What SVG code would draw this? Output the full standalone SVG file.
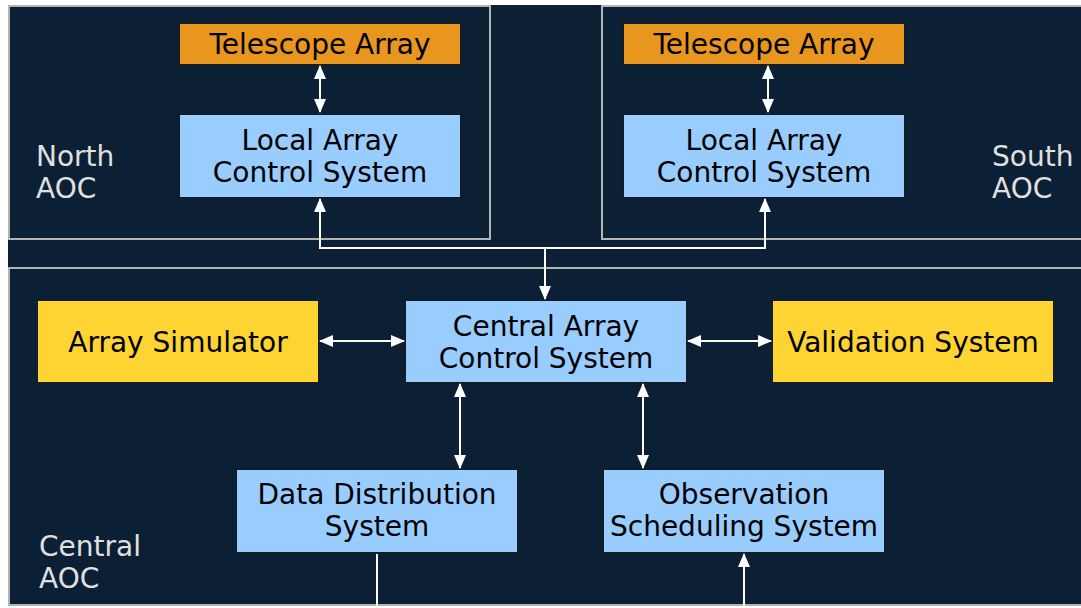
<svg xmlns="http://www.w3.org/2000/svg" width="1081" height="608" viewBox="0 0 1081 608">
  <style>
    .zone { fill: #0b1f35; stroke: #b4b4b4; stroke-width: 2; }
    .box { stroke: #1a1a1a; stroke-width: 1; }
    .tel { fill: #e8961e; }
    .ctl { fill: #99ccff; }
    .aux { fill: #fdd431; }
    .lbl { font-family: "DejaVu Sans", Verdana, sans-serif; font-size: 28px; fill: #000; text-anchor: middle; }
    .zlbl { font-family: "DejaVu Sans", Verdana, sans-serif; font-size: 28px; fill: #e0e0e0; }
    .wire { fill: none; stroke: #ffffff; stroke-width: 2; }
  </style>
  <defs>
    <marker id="head" viewBox="0 0 14 12" refX="13" refY="6" markerWidth="14" markerHeight="12" markerUnits="userSpaceOnUse" orient="auto-start-reverse">
      <path d="M0,0 L14,6 L0,12 Z" fill="#ffffff"/>
    </marker>
  </defs>

  <rect x="0" y="0" width="1081" height="608" fill="#ffffff"/>
  <rect x="8" y="5" width="1073" height="600" fill="#0b1f35"/>

  <!-- operation centres -->
  <g id="north-aoc">
    <rect class="zone" x="9" y="6" width="481" height="233"/>
    <text class="zlbl" x="36" y="166">North</text>
    <text class="zlbl" x="36" y="198">AOC</text>
  </g>
  <g id="south-aoc">
    <rect class="zone" x="602" y="6" width="480" height="233"/>
    <text class="zlbl" x="992" y="166">South</text>
    <text class="zlbl" x="992" y="198">AOC</text>
  </g>
  <g id="central-aoc">
    <rect class="zone" x="9" y="268" width="1073" height="337"/>
    <text class="zlbl" x="39" y="556">Central</text>
    <text class="zlbl" x="39" y="588">AOC</text>
  </g>

  <!-- connectors -->
  <g id="connectors">
    <line class="wire" x1="320" y1="66" x2="320" y2="112" marker-start="url(#head)" marker-end="url(#head)"/>
    <line class="wire" x1="768" y1="66" x2="768" y2="112" marker-start="url(#head)" marker-end="url(#head)"/>
    <polyline class="wire" points="320,199 320,248 765,248 765,199" marker-start="url(#head)" marker-end="url(#head)"/>
    <line class="wire" x1="545" y1="248" x2="545" y2="299" marker-end="url(#head)"/>
    <line class="wire" x1="320" y1="341" x2="404" y2="341" marker-start="url(#head)" marker-end="url(#head)"/>
    <line class="wire" x1="688" y1="341" x2="771" y2="341" marker-start="url(#head)" marker-end="url(#head)"/>
    <line class="wire" x1="460" y1="384" x2="460" y2="468" marker-start="url(#head)" marker-end="url(#head)"/>
    <line class="wire" x1="643" y1="384" x2="643" y2="468" marker-start="url(#head)" marker-end="url(#head)"/>
    <line class="wire" x1="377" y1="554" x2="377" y2="608"/>
    <line class="wire" x1="744" y1="608" x2="744" y2="554" marker-end="url(#head)"/>
  </g>

  <!-- north site -->
  <g id="north-telescope">
    <rect class="box tel" x="179.5" y="23.5" width="281" height="41"/>
    <text class="lbl" x="320" y="54">Telescope Array</text>
  </g>
  <g id="north-lacs">
    <rect class="box ctl" x="179.5" y="114.5" width="281" height="83"/>
    <text class="lbl" x="320" y="150">Local Array</text>
    <text class="lbl" x="320" y="182">Control System</text>
  </g>

  <!-- south site -->
  <g id="south-telescope">
    <rect class="box tel" x="623.5" y="23.5" width="281" height="41"/>
    <text class="lbl" x="764" y="54">Telescope Array</text>
  </g>
  <g id="south-lacs">
    <rect class="box ctl" x="623.5" y="114.5" width="281" height="83"/>
    <text class="lbl" x="764" y="150">Local Array</text>
    <text class="lbl" x="764" y="182">Control System</text>
  </g>

  <!-- central site -->
  <g id="array-simulator">
    <rect class="box aux" x="37.5" y="300.5" width="281" height="82"/>
    <text class="lbl" x="178" y="352">Array Simulator</text>
  </g>
  <g id="cacs">
    <rect class="box ctl" x="405.5" y="300.5" width="281" height="82"/>
    <text class="lbl" x="546" y="336">Central Array</text>
    <text class="lbl" x="546" y="368">Control System</text>
  </g>
  <g id="validation-system">
    <rect class="box aux" x="772.5" y="300.5" width="281" height="82"/>
    <text class="lbl" x="913" y="352">Validation System</text>
  </g>
  <g id="data-distribution">
    <rect class="box ctl" x="236.5" y="469.5" width="281" height="83"/>
    <text class="lbl" x="377" y="504">Data Distribution</text>
    <text class="lbl" x="377" y="536">System</text>
  </g>
  <g id="observation-scheduling">
    <rect class="box ctl" x="603.5" y="469.5" width="281" height="83"/>
    <text class="lbl" x="744" y="504">Observation</text>
    <text class="lbl" x="744" y="536">Scheduling System</text>
  </g>
</svg>
